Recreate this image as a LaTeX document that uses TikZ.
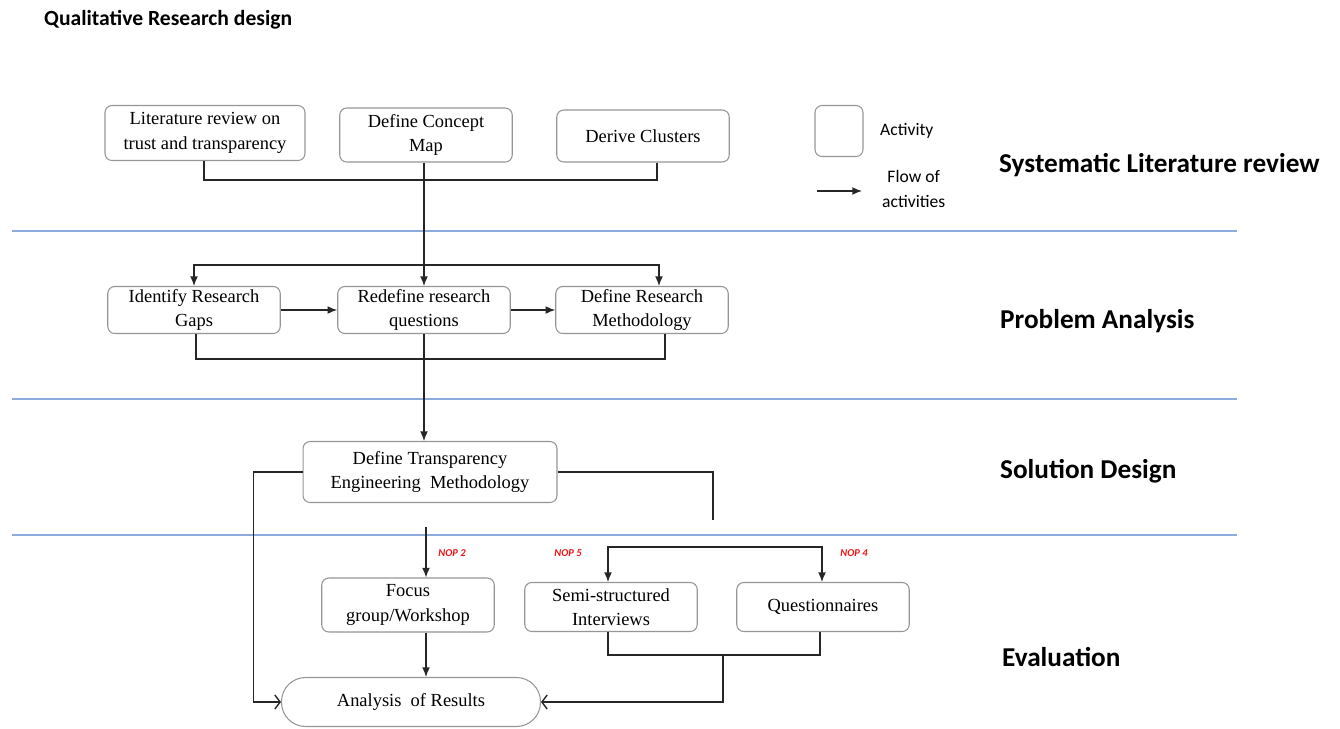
\documentclass[tikz,border=0pt]{standalone}
\usepackage{fontspec}
\setmainfont{Liberation Serif}
\newfontfamily\calibri{Carlito}
\usetikzlibrary{arrows.meta,positioning,calc}
\definecolor{BoxGray}{RGB}{150,150,150}
\definecolor{LaneBlue}{RGB}{143,170,220}
\definecolor{NopRed}{RGB}{235,20,20}
\tikzset{
  actbox/.style={draw=BoxGray,fill=white,rounded corners=4pt,
                 minimum width=3.45cm,minimum height=1.04cm,inner ysep=1pt,
                 font=\fontsize{10.5}{14}\selectfont,align=center,line width=0.6pt},
  endbox/.style={actbox,rounded corners=0.48cm},
  lane/.style={LaneBlue,line width=0.9pt},
  phase/.style={font=\calibri\bfseries\fontsize{15.5}{18}\selectfont,anchor=west},
  nop/.style={font=\calibri\bfseries\itshape\fontsize{6}{7}\selectfont,text=NopRed},
  legtext/.style={font=\calibri\fontsize{10}{14}\selectfont,align=left,anchor=west},
  line/.style={black!85,line width=0.8pt},
  arr/.style={line,-{Latex[length=5.5pt,width=4.5pt]}},
  oarr/.style={line,-{Straight Barb[length=3pt,width=8pt]}},
}
\begin{document}
\begin{tikzpicture}[x=0.02cm,y=-0.02cm]
\useasboundingbox (0,0) rectangle (1340,728);

\node[font=\calibri\bfseries\fontsize{12.3}{14}\selectfont,anchor=west] (title) at (38,20) {Qualitative Research design};

% swim lanes
\draw[lane] (12,231) -- (1237,231);
\draw[lane] (12,399) -- (1237,399);
\draw[lane] (12,535) -- (1237,535);

\node[phase] (slr) at (993,165) {Systematic Literature review};
\node[phase] (pa) at (994,321) {Problem Analysis};
\node[phase] (sd) at (994,471) {Solution Design};
\node[phase] (ev) at (996,657) {Evaluation};

% legend
\node[actbox,minimum width=0.96cm,minimum height=1.02cm] (legbox) at (839,131) {};
\node[legtext] (legact) at (874,131) {Activity};
\coordinate (la) at (817,191);
\coordinate (lb) at (862,191);
\draw[arr] (la) -- (lb);
\node[legtext] (legflow) at (876,189) {\hspace*{3pt}Flow of\\activities};

% systematic literature review
\node[actbox,minimum width=4cm,minimum height=1.1cm] (lit) at (205,133) {Literature review on\\trust and transparency};
\node[actbox,minimum height=1.08cm] (concept) at (426,135) {Define Concept\\Map};
\node[actbox] (clusters) at (643,136) {Derive Clusters};

\draw[line] ([xshift=-0.02cm]lit.south) -- ++(0,19) -| ([xshift=0.28cm]clusters.south);

% problem analysis
\node[actbox,minimum height=0.94cm] (gaps) at (194,310) {Identify Research\\Gaps};
\node[actbox,minimum height=0.94cm] (redefine) at (424,310) {Redefine research\\questions};
\node[actbox,minimum height=0.94cm] (method) at (642,310) {Define Research\\Methodology};

\coordinate (split) at (424,265);
\draw[arr] (concept.south -| split) -- (redefine.north);
\draw[arr] (split) -| (gaps.north);
\draw[arr] (split) -| ([xshift=0.34cm]method.north);
\draw[arr] (gaps) -- (redefine);
\draw[arr] (redefine) -- (method);
\draw[line] ([xshift=0.04cm]gaps.south) -- ++(0,25) -| ([xshift=0.46cm]method.south);

% solution design
\node[actbox,minimum width=5.08cm,minimum height=1.22cm] (transp) at (430,472) {Define Transparency\\Engineering\ \ Methodology};
\draw[arr] (redefine.south) -- (redefine.south |- transp.north);
\coordinate (rend) at (713,520);
\draw[line] (transp.east) -| (rend);

% evaluation
\node[actbox,minimum height=1.08cm] (focus) at (408,605) {Focus\\group/Workshop};
\node[actbox,minimum height=0.98cm] (semi) at (611,607) {Semi-structured\\Interviews};
\node[actbox,minimum height=0.98cm] (quest) at (823,607) {Questionnaires};
\node[endbox,minimum width=5.18cm,minimum height=0.98cm] (analysis) at (411,702) {Analysis\ \ of Results};

\coordinate (fstart) at (426,527);
\draw[arr] (fstart) -- (fstart |- focus.north);
\draw[arr] (fstart |- focus.south) -- (fstart |- analysis.north);

\coordinate (qsplit) at (715,547);
\draw[arr] (qsplit) -| ([xshift=-0.06cm]semi.north);
\draw[arr] (qsplit) -| ([xshift=-0.02cm]quest.north);
\draw[line] ([xshift=-0.06cm]semi.south) -- ++(0,23) -| ([xshift=-0.06cm]quest.south);
\coordinate (qjoin) at (723,655);
\draw[oarr] (qjoin) |- (analysis.east);
\draw[oarr] (transp.west) -- ++(-49,0) |- (analysis.west);

\node[nop] (nop2) at (452,553) {NOP 2};
\node[nop] (nop5) at (568,553) {NOP 5};
\node[nop] (nop4) at (854,553) {NOP 4};
\end{tikzpicture}
\end{document}
